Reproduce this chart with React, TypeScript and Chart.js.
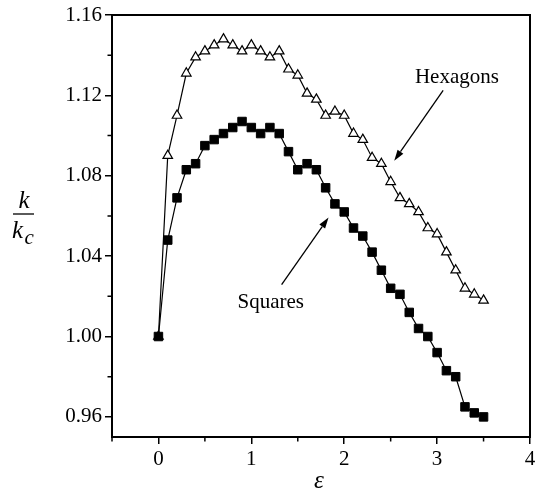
import React, { useEffect, useRef } from 'react';
import { Chart, registerables } from 'chart.js';

Chart.register(...registerables);

// ---- data ----
const epsilon = [
  0, 0.1, 0.2, 0.3, 0.4, 0.5, 0.6, 0.7, 0.8, 0.9,
  1.0, 1.1, 1.2, 1.3, 1.4, 1.5, 1.6, 1.7, 1.8, 1.9,
  2.0, 2.1, 2.2, 2.3, 2.4, 2.5, 2.6, 2.7, 2.8, 2.9,
  3.0, 3.1, 3.2, 3.3, 3.4, 3.5,
];

const hexagons = [
  1.000, 1.090, 1.110, 1.131, 1.139, 1.142, 1.145, 1.148, 1.145, 1.142,
  1.145, 1.142, 1.139, 1.142, 1.133, 1.130, 1.121, 1.118, 1.110, 1.112,
  1.110, 1.101, 1.098, 1.089, 1.086, 1.077, 1.069, 1.066, 1.062, 1.054,
  1.051, 1.042, 1.033, 1.024, 1.021, 1.018,
];

const squares = [
  1.000, 1.048, 1.069, 1.083, 1.086, 1.095, 1.098, 1.101, 1.104, 1.107,
  1.104, 1.101, 1.104, 1.101, 1.092, 1.083, 1.086, 1.083, 1.074, 1.066,
  1.062, 1.054, 1.050, 1.042, 1.033, 1.024, 1.021, 1.012, 1.004, 1.000,
  0.992, 0.983, 0.980, 0.965, 0.962, 0.960,
];

const xMajorTicks = [0, 1, 2, 3, 4];
const xMinorTicks = [-0.5, 0.5, 1.5, 2.5, 3.5];
const yMajorTicks = [0.96, 1.0, 1.04, 1.08, 1.12, 1.16];
const yMinorTicks = [0.98, 1.02, 1.06, 1.1, 1.14];

// annotation anchors (data units)
const hexLabel = { text: 'Hexagons', x: 3.213, y: 1.129 };
const hexArrow = { from: [3.065, 1.1225], to: [2.538, 1.0875] };
const sqLabel = { text: 'Squares', x: 1.209, y: 1.0167 };
const sqArrow = { from: [1.326, 1.0258], to: [1.831, 1.0592] };

const SERIF = '"Liberation Serif", "DejaVu Serif", serif';

function drawArrow(ctx: CanvasRenderingContext2D, x1: number, y1: number, x2: number, y2: number) {
  const ang = Math.atan2(y2 - y1, x2 - x1);
  const len = 11;
  const hw = 3.5;
  const bx = x2 - Math.cos(ang) * len;
  const by = y2 - Math.sin(ang) * len;
  ctx.beginPath();
  ctx.moveTo(x1, y1);
  ctx.lineTo(bx, by);
  ctx.lineWidth = 1.3;
  ctx.stroke();
  ctx.beginPath();
  ctx.moveTo(x2, y2);
  ctx.lineTo(bx + Math.sin(ang) * hw, by - Math.cos(ang) * hw);
  ctx.lineTo(bx - Math.sin(ang) * hw, by + Math.cos(ang) * hw);
  ctx.closePath();
  ctx.fill();
}

const framePlugin = {
  id: 'frame',
  afterDraw(chart: any) {
    const { ctx, chartArea: a, scales } = chart;
    const xs = scales.x;
    const ys = scales.y;
    ctx.save();
    ctx.strokeStyle = '#000';
    ctx.fillStyle = '#000';
    ctx.lineWidth = 2;
    ctx.strokeRect(a.left, a.top, a.right - a.left, a.bottom - a.top);

    // minor ticks
    ctx.lineWidth = 1.5;
    ctx.beginPath();
    for (const v of xMinorTicks) {
      const px = xs.getPixelForValue(v);
      ctx.moveTo(px, a.bottom);
      ctx.lineTo(px, a.bottom + 4.5);
    }
    for (const v of yMinorTicks) {
      const py = ys.getPixelForValue(v);
      ctx.moveTo(a.left, py);
      ctx.lineTo(a.left - 4.5, py);
    }
    ctx.stroke();

    // annotations
    ctx.font = `21px ${SERIF}`;
    ctx.textAlign = 'center';
    ctx.textBaseline = 'middle';
    ctx.fillText(hexLabel.text, xs.getPixelForValue(hexLabel.x), ys.getPixelForValue(hexLabel.y));
    ctx.fillText(sqLabel.text, xs.getPixelForValue(sqLabel.x), ys.getPixelForValue(sqLabel.y));
    drawArrow(
      ctx,
      xs.getPixelForValue(hexArrow.from[0]), ys.getPixelForValue(hexArrow.from[1]),
      xs.getPixelForValue(hexArrow.to[0]), ys.getPixelForValue(hexArrow.to[1])
    );
    drawArrow(
      ctx,
      xs.getPixelForValue(sqArrow.from[0]), ys.getPixelForValue(sqArrow.from[1]),
      xs.getPixelForValue(sqArrow.to[0]), ys.getPixelForValue(sqArrow.to[1])
    );

    // y title: k / k_c
    ctx.textBaseline = 'alphabetic';
    ctx.font = `italic 25px ${SERIF}`;
    ctx.textAlign = 'center';
    ctx.fillText('k', 24, 208);
    ctx.lineWidth = 1.3;
    ctx.beginPath();
    ctx.moveTo(13, 214);
    ctx.lineTo(34, 214);
    ctx.stroke();
    ctx.textAlign = 'left';
    ctx.fillText('k', 12, 238);
    ctx.font = `italic 21px ${SERIF}`;
    ctx.fillText('c', 24.5, 244);

    // x title
    ctx.font = `italic 25px ${SERIF}`;
    ctx.textAlign = 'center';
    ctx.fillText('\u03b5', (a.left + a.right) / 2 - 2, 488);
    ctx.restore();
  },
};

export default function App() {
  const ref = useRef<HTMLCanvasElement | null>(null);

  useEffect(() => {
    if (!ref.current) return;
    Chart.defaults.font.family = SERIF;
    Chart.defaults.color = '#000';
    const chart = new Chart(ref.current, {
      type: 'line',
      data: {
        datasets: [
          {
            label: 'Squares',
            data: epsilon.map((x, i) => ({ x, y: squares[i] })),
            borderColor: '#000',
            borderWidth: 1.2,
            pointStyle: 'rect',
            pointRadius: 6,
            pointBackgroundColor: '#000',
            pointBorderColor: '#000',
            pointBorderWidth: 1,
            tension: 0,
          },
          {
            label: 'Hexagons',
            data: epsilon.map((x, i) => ({ x, y: hexagons[i] })),
            borderColor: '#000',
            borderWidth: 1.2,
            pointStyle: 'triangle',
            pointRadius: 5.5,
            pointBackgroundColor: '#fff',
            pointBorderColor: '#000',
            pointBorderWidth: 1.2,
            tension: 0,
          },
        ],
      },
      options: {
        responsive: false,
        animation: false,
        events: [],
        layout: { padding: { top: 15, left: 0, right: 1, bottom: 0 } },
        plugins: {
          legend: { display: false },
          tooltip: { enabled: false },
        },
        scales: {
          x: {
            type: 'linear',
            min: -0.5,
            max: 4,
            afterBuildTicks: (s: any) => {
              s.ticks = xMajorTicks.map((v) => ({ value: v }));
            },
            afterFit: (s: any) => {
              s.height = 55;
              s.paddingLeft = 0;
              s.paddingRight = 0;
            },
            ticks: {
              font: { size: 21, family: SERIF },
              color: '#000',
              padding: 3,
              maxRotation: 0,
              autoSkip: false,
              callback: (v: any) => String(v),
            },
            grid: {
              drawOnChartArea: false,
              drawTicks: true,
              tickLength: 7,
              color: '#000',
              lineWidth: 1.5,
            },
            border: { display: false },
          },
          y: {
            type: 'linear',
            min: 0.95,
            max: 1.16,
            afterBuildTicks: (s: any) => {
              s.ticks = yMajorTicks.map((v) => ({ value: v }));
            },
            afterFit: (s: any) => {
              s.width = 112;
              s.paddingTop = 0;
              s.paddingBottom = 0;
            },
            ticks: {
              font: { size: 21, family: SERIF },
              color: '#000',
              padding: 3,
              autoSkip: false,
              callback: (v: any) => Number(v).toFixed(2),
            },
            grid: {
              drawOnChartArea: false,
              drawTicks: true,
              tickLength: 7,
              color: '#000',
              lineWidth: 1.5,
            },
            border: { display: false },
          },
        },
      },
      plugins: [framePlugin],
    });
    return () => chart.destroy();
  }, []);

  return (
    <div style={{ position: 'absolute', left: 0, top: 0, width: 537, height: 492, background: '#fff' }}>
      <canvas ref={ref} width={537} height={492} style={{ display: 'block' }} />
    </div>
  );
}
